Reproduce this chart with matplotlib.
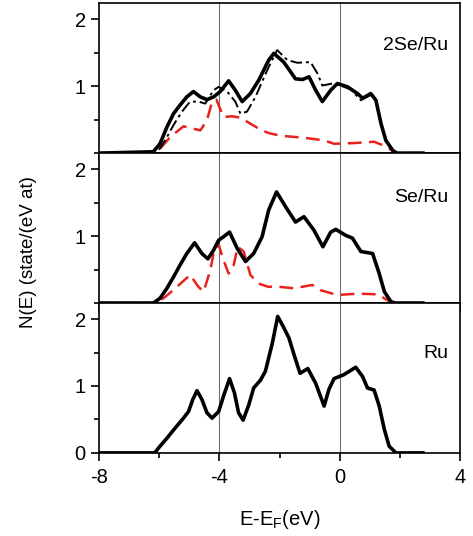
import matplotlib
matplotlib.use("Agg")
import matplotlib.pyplot as plt
from matplotlib.ticker import MultipleLocator

plt.rcParams['font.family'] = ['Liberation Sans', 'DejaVu Sans']

# ---- data ----
# Ru (bottom panel)
ru_x = [-8, -6.2, -6.13, -5.97, -5.74, -5.47, -5.19, -5.02, -4.88, -4.74, -4.58, -4.41,
        -4.24, -4.02, -3.86, -3.66, -3.5, -3.36, -3.21, -3.02, -2.86, -2.63, -2.47, -2.24,
        -2.06, -1.88, -1.69, -1.52, -1.32, -1.06, -0.8, -0.52, -0.36, -0.19, 0.14, 0.53,
        0.76, 0.92, 1.14, 1.31, 1.48, 1.64, 1.87, 2.76]
ru_y = [0, 0, 0.01, 0.10, 0.22, 0.37, 0.52, 0.62, 0.80, 0.93, 0.80, 0.60,
        0.52, 0.62, 0.85, 1.11, 0.90, 0.60, 0.49, 0.72, 0.97, 1.09, 1.22, 1.64,
        2.04, 1.89, 1.72, 1.47, 1.19, 1.26, 1.04, 0.70, 0.95, 1.11, 1.17, 1.28,
        1.14, 0.97, 0.94, 0.70, 0.35, 0.10, 0, 0]

# Se/Ru (middle panel)
seru_x = [-8, -6.19, -5.97, -5.74, -5.52, -5.3, -5.08, -4.82, -4.58, -4.38, -4.19, -4.02,
          -3.86, -3.66, -3.41, -3.13, -2.86, -2.58, -2.36, -2.1, -1.8, -1.47, -1.19, -0.86,
          -0.56, -0.3, -0.13, 0.2, 0.42, 0.7, 1.09, 1.31, 1.48, 1.7, 1.85, 2.76]
seru_y = [0, 0, 0.07, 0.22, 0.39, 0.57, 0.74, 0.90, 0.74, 0.66, 0.79, 0.94,
          0.99, 1.06, 0.82, 0.62, 0.74, 0.99, 1.39, 1.66, 1.44, 1.21, 1.29, 1.09,
          0.84, 1.06, 1.10, 1.01, 0.97, 0.77, 0.74, 0.44, 0.17, 0.02, 0, 0]
seru_se_x = [-8, -6.08, -5.8, -5.41, -4.97, -4.69, -4.52, -4.3, -4.17, -4.02, -3.86, -3.69,
             -3.52, -3.39, -3.19, -2.97, -2.69, -2.36, -2.19, -1.52, -0.91, -0.63, -0.08,
             0.59, 1.26, 1.59, 1.76, 2.65]
seru_se_y = [0, 0, 0.09, 0.24, 0.42, 0.24, 0.17, 0.49, 0.79, 0.87, 0.64, 0.44,
             0.57, 0.84, 0.77, 0.42, 0.29, 0.24, 0.25, 0.22, 0.27, 0.19, 0.12,
             0.14, 0.13, 0.04, 0, 0]

# 2Se/Ru (top panel)
se2_x = [-8, -6.19, -5.97, -5.74, -5.52, -5.3, -5.08, -4.86, -4.63, -4.41, -4.19, -3.97,
         -3.69, -3.47, -3.24, -2.97, -2.69, -2.36, -2.19, -1.86, -1.47, -1.24, -1.02, -0.8,
         -0.58, -0.3, -0.08, 0.26, 0.59, 0.76, 1.03, 1.2, 1.37, 1.53, 1.76, 1.9, 2.76]
se2_y = [0, 0.02, 0.14, 0.39, 0.59, 0.72, 0.84, 0.92, 0.84, 0.80, 0.84, 0.92,
         1.08, 0.94, 0.77, 0.89, 1.09, 1.39, 1.49, 1.36, 1.11, 1.10, 1.14, 0.94,
         0.77, 0.94, 1.04, 0.99, 0.89, 0.82, 0.89, 0.79, 0.44, 0.19, 0.04, 0, 0]
se2_b_x = [-6.0, -5.8, -5.52, -5.24, -4.97, -4.69, -4.47, -4.19, -4.02, -3.74, -3.47, -3.3,
           -3.08, -2.8, -2.41, -2.08, -1.74, -1.41, -0.97, -0.74, -0.58, -0.24, 0.03,
           0.37, 0.7, 1.03]
se2_b_y = [0.05, 0.19, 0.42, 0.62, 0.77, 0.77, 0.74, 0.94, 0.99, 0.92, 0.77, 0.59,
           0.62, 0.84, 1.24, 1.54, 1.39, 1.35, 1.36, 1.19, 1.01, 1.04, 1.01,
           0.95, 0.79, 0.87]
se2_se_x = [-8, -6.1, -6.02, -5.63, -5.19, -4.91, -4.63, -4.41, -4.24, -4.1, -3.86, -3.58,
            -3.3, -2.97, -2.63, -2.36, -1.97, -1.19, -0.52, -0.19, 0.48, 1.14, 1.53,
            1.76, 1.85, 2.65]
se2_se_y = [0, 0, 0.04, 0.24, 0.40, 0.37, 0.34, 0.49, 0.77, 0.80, 0.54, 0.55,
            0.53, 0.44, 0.35, 0.30, 0.26, 0.23, 0.19, 0.14, 0.15, 0.17, 0.10,
            0.03, 0, 0]

labels = ['2Se/Ru', 'Se/Ru', 'Ru']
label_y = [1.61, 1.58, 1.49]

fig, axes = plt.subplots(3, 1, figsize=(4.73, 5.36), dpi=100, sharex=True)
fig.subplots_adjust(left=0.209, right=0.973, bottom=0.155, top=0.994, hspace=0)

red = '#e8211c'
axes[0].plot(se2_se_x, se2_se_y, color=red, lw=1.8, dashes=(5.5, 3))
axes[0].plot(se2_b_x, se2_b_y, color='black', lw=1.4, dashes=(6, 2, 1.5, 2))
axes[0].plot(se2_x, se2_y, color='black', lw=2.6, solid_joinstyle='round')

axes[1].plot(seru_se_x, seru_se_y, color=red, lw=1.8, dashes=(5.5, 3))
axes[1].plot(seru_x, seru_y, color='black', lw=2.6, solid_joinstyle='round')

axes[2].plot(ru_x, ru_y, color='black', lw=2.6, solid_joinstyle='round')

for i, ax in enumerate(axes):
    ax.set_xlim(-8, 4)
    ax.set_ylim(0, 2.24)
    ax.axvline(-4, color='#707070', lw=0.8, zorder=0)
    ax.axvline(0, color='#707070', lw=0.8, zorder=0)
    ax.xaxis.set_major_locator(MultipleLocator(4))
    ax.xaxis.set_minor_locator(MultipleLocator(2))
    ax.yaxis.set_major_locator(MultipleLocator(1))
    ax.yaxis.set_minor_locator(MultipleLocator(0.5))
    ax.tick_params(which='major', direction='out', length=6, width=1.2, labelsize=14.5)
    ax.tick_params(axis='x', which='major', pad=5)
    ax.tick_params(which='minor', direction='out', length=3.5, width=1.2)
    for s in ax.spines.values():
        s.set_linewidth(1.2)
    if i < 2:
        ax.set_yticks([1, 2])
    else:
        ax.set_yticks([0, 1, 2])
    ax.text(3.6, label_y[i], labels[i], ha='right', va='center', fontsize=14)

axes[2].set_xticks([-8, -4, 0, 4])
axes[2].set_xticklabels(['-8', '-4', '0', '4'])
axes[2].set_xlabel('E-E$_\\mathregular{F}$(eV)', fontsize=14.5, labelpad=15)
fig.text(0.06, 0.53, 'N(E) (state/(eV at)', rotation=90, ha='center', va='center',
         fontsize=13.5)

fig.savefig('out.png', dpi=100)
